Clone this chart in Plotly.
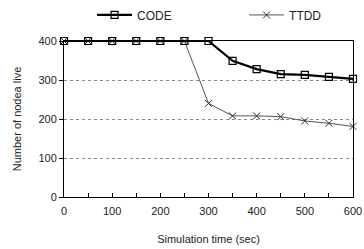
import plotly.graph_objects as go

time_sec = [0, 50, 100, 150, 200, 250, 300, 350, 400, 450, 500, 550, 600]
code_live = [400, 400, 400, 400, 400, 400, 400, 349, 328, 315, 313, 308, 303]
ttdd_live = [400, 400, 400, 400, 400, 400, 240, 208, 208, 206, 195, 189, 181]

fnt = dict(family="Liberation Sans, Arial, sans-serif", size=11, color="#222")
lfnt = dict(family="Liberation Sans, Arial, sans-serif", size=12, color="#222")

fig = go.Figure()
fig.add_trace(go.Scatter(
    x=time_sec, y=ttdd_live, name="TTDD", mode="lines+markers",
    line=dict(color="#555", width=1),
    marker=dict(symbol="x-thin", size=7, line=dict(color="#333", width=1)),
    cliponaxis=False, legend="legend2"))
fig.add_trace(go.Scatter(
    x=time_sec, y=code_live, name="CODE", mode="lines+markers",
    line=dict(color="#000", width=2.2),
    marker=dict(symbol="square-open", size=7, color="#000", line=dict(width=1.2)),
    cliponaxis=False, legend="legend"))

leg_common = dict(orientation="h", yref="container", yanchor="middle", y=0.94,
                  xanchor="left", font=lfnt, itemwidth=35, bgcolor="rgba(0,0,0,0)")

fig.update_layout(
    template="none",
    width=364, height=249,
    margin=dict(l=64, r=11, t=41, b=52),
    paper_bgcolor="white", plot_bgcolor="white",
    font=fnt,
    showlegend=True,
    legend=dict(x=0.097, **leg_common),
    legend2=dict(x=0.623, **leg_common),
    xaxis=dict(range=[0, 600], tickvals=[0, 100, 200, 300, 400, 500, 600],
               automargin=False,
               showgrid=False, zeroline=False,
               showline=True, linecolor="black", linewidth=1, mirror=True,
               ticks="inside", ticklen=4, tickcolor="black", ticklabelstandoff=4,
               minor=dict(dtick=50, ticks="inside", ticklen=4, tickcolor="black",
                          showgrid=False),
               title=dict(text="Simulation time (sec)", font=fnt, standoff=19),
               tickfont=fnt),
    yaxis=dict(range=[0, 400], tickvals=[0, 100, 200, 300, 400],
               automargin=False,
               showgrid=True, gridcolor="#888", griddash="3px,3px", gridwidth=1,
               zeroline=False,
               showline=True, linecolor="black", linewidth=1, mirror=True,
               ticks="outside", ticklen=4, tickcolor="black",
               title=dict(text="Number of nodea live", font=fnt, standoff=14),
               tickfont=fnt),
)
fig.write_html("out.html", config={"displayModeBar": False},
               post_script="document.body.style.margin='0';document.body.style.overflow='hidden';")
